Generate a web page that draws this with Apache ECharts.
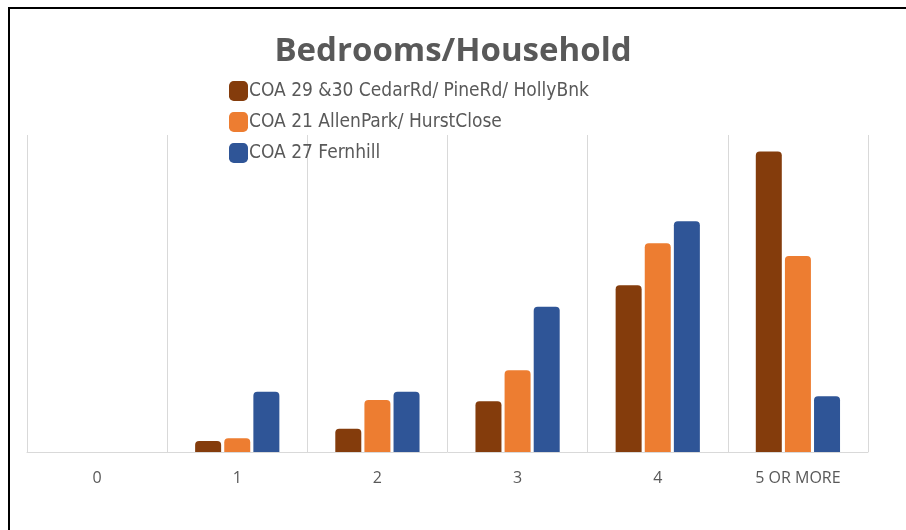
<!DOCTYPE html>
<html>
<head>
<meta charset="utf-8">
<script src="https://cdn.jsdelivr.net/npm/echarts@6/dist/echarts.min.js"></script>
<style>
	html, body { margin: 0; padding: 0; background: #fff; }
	#chart { position: absolute; left: 0; top: 0; width: 906px; height: 530px; }
	.edge_top { position: absolute; left: 8px; top: 7px; width: 898px; height: 2px; background: #000; }
	.edge_left { position: absolute; left: 8px; top: 7px; width: 2px; height: 523px; background: #000; }
</style>
</head>
<body>
<div id="chart"></div>
<div class="edge_top"></div>
<div class="edge_left"></div>
<script>
	// categories along the bottom
	var categories = ['0', '1', '2', '3', '4', '5 OR MORE'];

	// series names
	var seriesNames = [
		'COA 29 &30 CedarRd/ PineRd/ HollyBnk',
		'COA 21 AllenPark/ HurstClose',
		'COA 27 Fernhill'
	];

	// share of households (%)
	var cedarPine = [0, 2.0, 4.2, 9.2, 30.2, 54.4];
	var allenHurst = [0, 2.5, 9.4, 14.8, 37.8, 35.5];
	var fernhill = [0, 10.9, 10.9, 26.3, 41.8, 10.1];

	var colors = ['#843C0C', '#ED7D31', '#2F5597'];

	function barSeries(name, data) {
		return {
			name: name,
			type: 'bar',
			barWidth: 26,
			barGap: '12%',
			itemStyle: {
				borderRadius: [4, 4, 0, 0]
			},
			data: data
		}
	}

	var chart = echarts.init(document.getElementById('chart'));
	chart.setOption({
		animation: false,
		color: colors,
		title: {
			text: 'Bedrooms/Household',
			left: 'center',
			top: 30,
			textStyle: {
				fontFamily: 'Open Sans',
				fontSize: 33,
				fontWeight: 'bold',
				color: '#595959'
			}
		},
		legend: {
			orient: 'vertical',
			left: 224,
			top: 76,
			itemWidth: 19,
			itemHeight: 20,
			itemGap: 11,
			icon: 'roundRect',
			textStyle: {
				fontFamily: 'DejaVu Sans Condensed',
				fontSize: 19,
				color: '#595959',
				padding: [0, 0, 0, -4]
			},
			data: seriesNames
		},
		grid: {
			left: 27,
			right: 38,
			top: 135,
			bottom: 78
		},
		xAxis: {
			type: 'category',
			data: categories,
			axisLine: { lineStyle: { color: '#d9d9d9', width: 1 } },
			axisTick: { show: false },
			axisLabel: {
				margin: 18,
				fontFamily: 'Open Sans',
				fontSize: 16,
				color: '#595959'
			},
			splitLine: {
				show: true,
				lineStyle: { color: '#d9d9d9', width: 1 }
			}
		},
		yAxis: {
			type: 'value',
			show: false,
			min: 0,
			max: 57.4,
			splitLine: { show: false }
		},
		series: [
			barSeries(seriesNames[0], cedarPine),
			barSeries(seriesNames[1], allenHurst),
			barSeries(seriesNames[2], fernhill)
		]
	});
</script>
</body>
</html>
